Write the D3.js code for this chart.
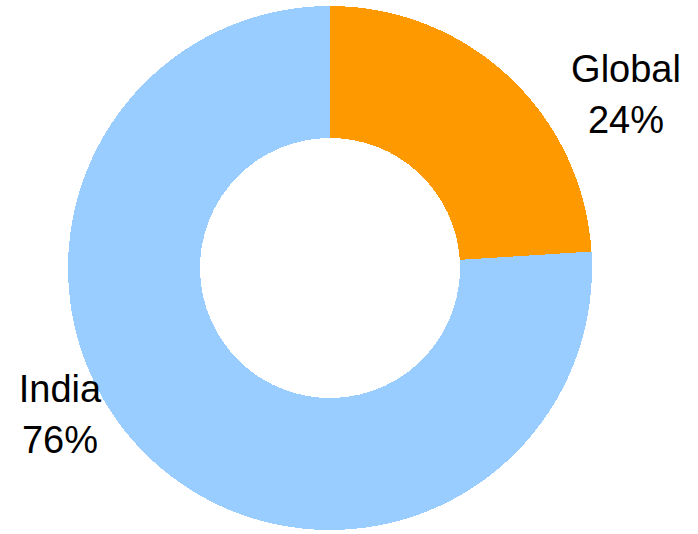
<!DOCTYPE html>
<html>
<head>
<meta charset="utf-8">
<script src="https://cdn.jsdelivr.net/npm/d3@7"></script>
<style>
  html, body { margin: 0; padding: 0; background: #fff; }
  svg { display: block; }
</style>
</head>
<body>
<svg id="chart" width="698" height="534"></svg>
<script>
// Share of revenue by region
const categories = ["Global", "India"];
const shares = [24, 76];
const colors = ["#FF9900", "#99CCFF"];

const svg = d3.select("#chart");
const cx = 330, cy = 268;
const outerR = 262, innerR = 130;

const pie = d3.pie().sort(null).value(d => d.value);
const data = categories.map((c, i) => ({ name: c, value: shares[i], color: colors[i] }));
const arcs = pie(data);

const arc = d3.arc().innerRadius(innerR).outerRadius(outerR);

const g = svg.append("g").attr("transform", `translate(${cx},${cy})`);

g.selectAll("path.slice")
  .data(arcs)
  .join("path")
  .attr("class", "slice")
  .attr("d", arc)
  .attr("fill", d => d.data.color)
  .attr("shape-rendering", "crispEdges");

// Label placement: offsets from the donut centre for each slice label
const labelPos = {
  Global: [296, -186],
  India: [-270, 134]
};
const lineGap = 51;
const fontSize = 38;

const labels = g.selectAll("g.label")
  .data(arcs)
  .join("g")
  .attr("class", "label")
  .attr("transform", d => `translate(${labelPos[d.data.name][0]},${labelPos[d.data.name][1]})`);

labels.append("text")
  .attr("text-anchor", "middle")
  .attr("font-family", "'Liberation Sans', Arial, sans-serif")
  .attr("font-size", fontSize)
  .attr("fill", "#000")
  .text(d => d.data.name);

labels.append("text")
  .attr("text-anchor", "middle")
  .attr("y", lineGap)
  .attr("font-family", "'Liberation Sans', Arial, sans-serif")
  .attr("font-size", fontSize)
  .attr("fill", "#000")
  .text(d => d.data.value + "%");
</script>
</body>
</html>
